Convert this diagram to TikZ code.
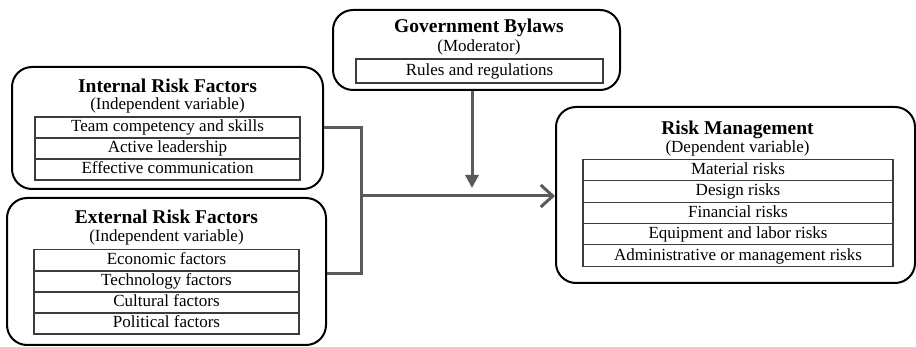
\documentclass[tikz,border=0pt]{standalone}
\usepackage{fontspec}
\setmainfont{Liberation Serif}
\usetikzlibrary{arrows.meta}
\definecolor{conncol}{RGB}{90,90,90}
\definecolor{cellcol}{RGB}{60,60,60}
\tikzset{
  outerbox/.style={draw=black, line width=2pt, rounded corners=20pt, inner sep=0pt},
  cell/.style={draw=cellcol, line width=1.1pt, inner sep=0pt, text height=11.5pt, text depth=2.5pt,
    font=\fontsize{17}{20}\selectfont},
  titletext/.style={anchor=base, inner sep=0pt, font=\bfseries\fontsize{19.5}{22}\selectfont},
  subtext/.style={anchor=base, inner sep=0pt, font=\fontsize{17}{20}\selectfont},
  conn/.style={draw=conncol, line width=3pt},
}
\begin{document}
\begin{tikzpicture}[x=1pt,y=-1pt]
\useasboundingbox (0,0) rectangle (916,347);
% outer boxes
\node[outerbox, minimum width=311pt, minimum height=122pt] (int) at (167.5,128) {};
\node[outerbox, minimum width=319pt, minimum height=147pt] (ext) at (166.5,271.5) {};
\node[outerbox, minimum width=287pt, minimum height=80pt] (gov) at (476.5,50) {};
\node[outerbox, minimum width=359pt, minimum height=176pt] (risk) at (735.5,195) {};
% internal
\node[titletext] (intT) at (167.5,93) {Internal Risk Factors};
\node[subtext] (intS) at (167.5,109.5) {(Independent variable)};
\node[cell, minimum width=265pt, minimum height=21pt] (i1) at (167.5,127.5) {Team competency and skills};
\node[cell, minimum width=265pt, minimum height=21pt] (i2) at (167.5,148.5) {Active leadership};
\node[cell, minimum width=265pt, minimum height=21pt] (i3) at (167.5,169.5) {Effective communication};
% external
\node[titletext] (extT) at (166.5,224) {External Risk Factors};
\node[subtext] (extS) at (166.5,241.5) {(Independent variable)};
\node[cell, minimum width=265pt, minimum height=21pt] (e1) at (166.5,260) {Economic factors};
\node[cell, minimum width=265pt, minimum height=21pt] (e2) at (166.5,281.5) {Technology factors};
\node[cell, minimum width=265pt, minimum height=21pt] (e3) at (166.5,302.5) {Cultural factors};
\node[cell, minimum width=265pt, minimum height=21pt] (e4) at (166.5,323.5) {Political factors};
% government
\node[titletext] (govT) at (479,33) {Government Bylaws};
\node[subtext] (govS) at (479,51.5) {(Moderator)};
\node[cell, minimum width=247pt, minimum height=24pt] (g1) at (479.5,71) {Rules and regulations};
% risk management
\node[titletext] (riskT) at (737.5,135) {Risk Management};
\node[subtext] (riskS) at (737.5,153) {(Dependent variable)};
\node[cell, minimum width=310pt, minimum height=21.4pt] (r1) at (738,170) {Material risks};
\node[cell, minimum width=310pt, minimum height=21.4pt] (r2) at (738,191.4) {Design risks};
\node[cell, minimum width=310pt, minimum height=21.4pt] (r3) at (738,212.8) {Financial risks};
\node[cell, minimum width=310pt, minimum height=21.4pt] (r4) at (738,234.2) {Equipment and labor risks};
\node[cell, minimum width=310pt, minimum height=21.4pt] (r5) at (738,255.6) {Administrative or management risks};
% connectors
\coordinate (j) at (361,196);
\coordinate (m) at (472,188);
\draw[conn] (int.east) -| (j);
\draw[conn] ([yshift=-2.5pt]ext.east) -| (j);
\draw[conn, -{Straight Barb[length=12pt,width=22pt]}] (j) -- (j -| risk.west);
\draw[conn, -{Triangle[length=13pt,width=13pt]}] (gov.south -| m) -- (m);
\end{tikzpicture}
\end{document}
